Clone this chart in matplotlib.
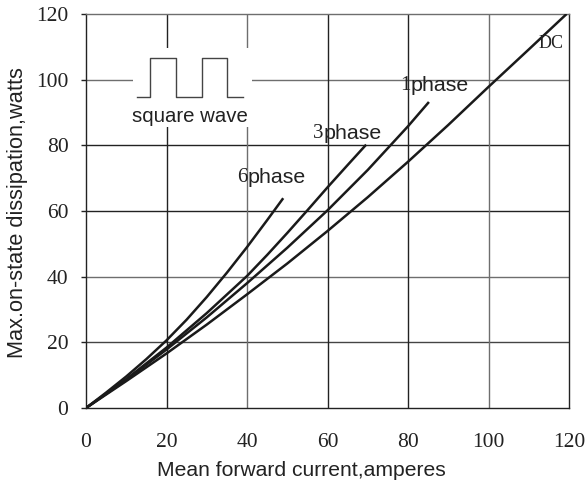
import matplotlib
matplotlib.use("Agg")
import matplotlib.pyplot as plt
from matplotlib.patches import Rectangle

# ---- data ----
dc_x = [0, 10, 20, 30, 40, 50, 60, 70, 80, 90, 100, 110, 119.4]
dc_y = [0, 8.2, 16.6, 25.4, 34.6, 44.0, 53.9, 64.2, 75.0, 86.2, 97.8, 109.2, 120]

ph1_x = [0, 10, 20, 30, 40, 50, 60, 70, 80, 85.2]
ph1_y = [0, 8.6, 17.8, 27.6, 38.0, 48.8, 60.2, 72.5, 85.8, 93.2]

ph3_x = [0, 10, 20, 30, 40, 45, 50, 55, 60, 65, 69.6]
ph3_y = [0, 8.8, 18.4, 28.9, 40.2, 46.6, 53.3, 60.2, 67.2, 74.0, 80.2]

ph6_x = [0, 5, 10, 15, 20, 25, 30, 35, 40, 45, 49]
ph6_y = [0, 4.7, 9.6, 14.9, 20.6, 26.9, 33.8, 41.2, 49.0, 57.2, 63.9]

x_ticks = [0, 20, 40, 60, 80, 100, 120]
y_ticks = [0, 20, 40, 60, 80, 100, 120]

# square wave icon (schematic)
sq_x = [12.6, 15.9, 15.9, 22.4, 22.4, 28.7, 28.7, 35.1, 35.1, 39.1]
sq_y = [94.6, 94.6, 106.5, 106.5, 94.6, 94.6, 106.5, 106.5, 94.6, 94.6]

serif = "Liberation Serif"
sans = "Liberation Sans"
tcol = "#222222"

W, H = 587, 484
fig = plt.figure(figsize=(W / 100, H / 100), dpi=100)
ax = fig.add_axes([86/W, 76/H, 483/W, 394/H])
ax.set_xlim(0, 120)
ax.set_ylim(0, 120)

# grid lines
dark = "#222222"
gray = "#6e6e6e"
hcol = {20: "#444444", 40: gray, 60: dark, 80: dark, 100: gray}
vcol = {20: dark, 40: gray, 60: dark, 80: dark, 100: gray}
for y, c in hcol.items():
    ax.axhline(y, color=c, lw=1.0, zorder=1)
for x, c in vcol.items():
    ax.axvline(x, color=c, lw=1.0, zorder=1)

for side in ["left", "bottom", "right"]:
    ax.spines[side].set_color(dark)
    ax.spines[side].set_linewidth(1.0)
ax.spines["top"].set_color(gray)
ax.spines["top"].set_linewidth(1.0)

# white box behind square-wave icon
ax.add_patch(Rectangle((11.7, 85.6), 29.5, 24.1, facecolor="white",
                       edgecolor="none", zorder=2))
ax.plot(sq_x, sq_y, color="#444444", lw=1.0, zorder=3)
ax.text(25.8, 88.9, "square wave", family=sans, fontsize=14.7,
        ha="center", va="center", color=tcol, zorder=3)

for xs, ys in [(dc_x, dc_y), (ph1_x, ph1_y), (ph3_x, ph3_y), (ph6_x, ph6_y)]:
    ax.plot(xs, ys, color="#1a1a1a", lw=1.8, zorder=4, solid_capstyle="butt")

# curve labels: digit in serif, word in sans
def label(x, y, digit, word):
    t = ax.text(x, y, digit, family=serif, fontsize=15, ha="left",
                va="center", color=tcol, zorder=5)
    fig.canvas.draw()
    bb = t.get_window_extent()
    inv = ax.transData.inverted()
    x2 = inv.transform((bb.x1, bb.y0))[0]
    ax.text(x2, y, word, family=sans, fontsize=15.4, ha="left",
            va="center", color=tcol, zorder=5)

label(37.6, 70.3, "6", "phase")
label(56.4, 83.5, "3", "phase")
label(78.0, 98.1, "1", "phase")
ax.text(112.5, 110.9, "DC", family=serif, fontsize=13, ha="left",
        va="center", color=tcol, zorder=5)

ax.set_xticks(x_ticks)
ax.set_yticks(y_ticks)
ax.set_xticklabels([str(v) for v in x_ticks], family=serif, fontsize=15.5,
                   color=tcol)
ax.set_yticklabels([str(v) for v in y_ticks], family=serif, fontsize=15.5,
                   color=tcol)
ax.tick_params(axis="x", length=0, pad=18)
ax.tick_params(axis="y", length=3.6, width=1, color=dark, pad=9)

# axis labels as figure texts, sized to the reference's extents
xl = fig.text(301 / W, 1 - 470 / H, "Mean forward current,amperes",
              family=sans, fontsize=15, color=tcol, ha="center", va="center")
yl = fig.text(18 / W, 1 - 213 / H, "Max.on-state dissipation,watts",
              family=sans, fontsize=15, color=tcol, ha="center", va="center",
              rotation=90)
fig.canvas.draw()
r = fig.canvas.get_renderer()
wx = xl.get_window_extent(r).width
xl.set_fontsize(15 * 290 / wx)
hy = yl.get_window_extent(r).height
yl.set_fontsize(15 * 292 / hy)

fig.savefig("out.png", dpi=100)
